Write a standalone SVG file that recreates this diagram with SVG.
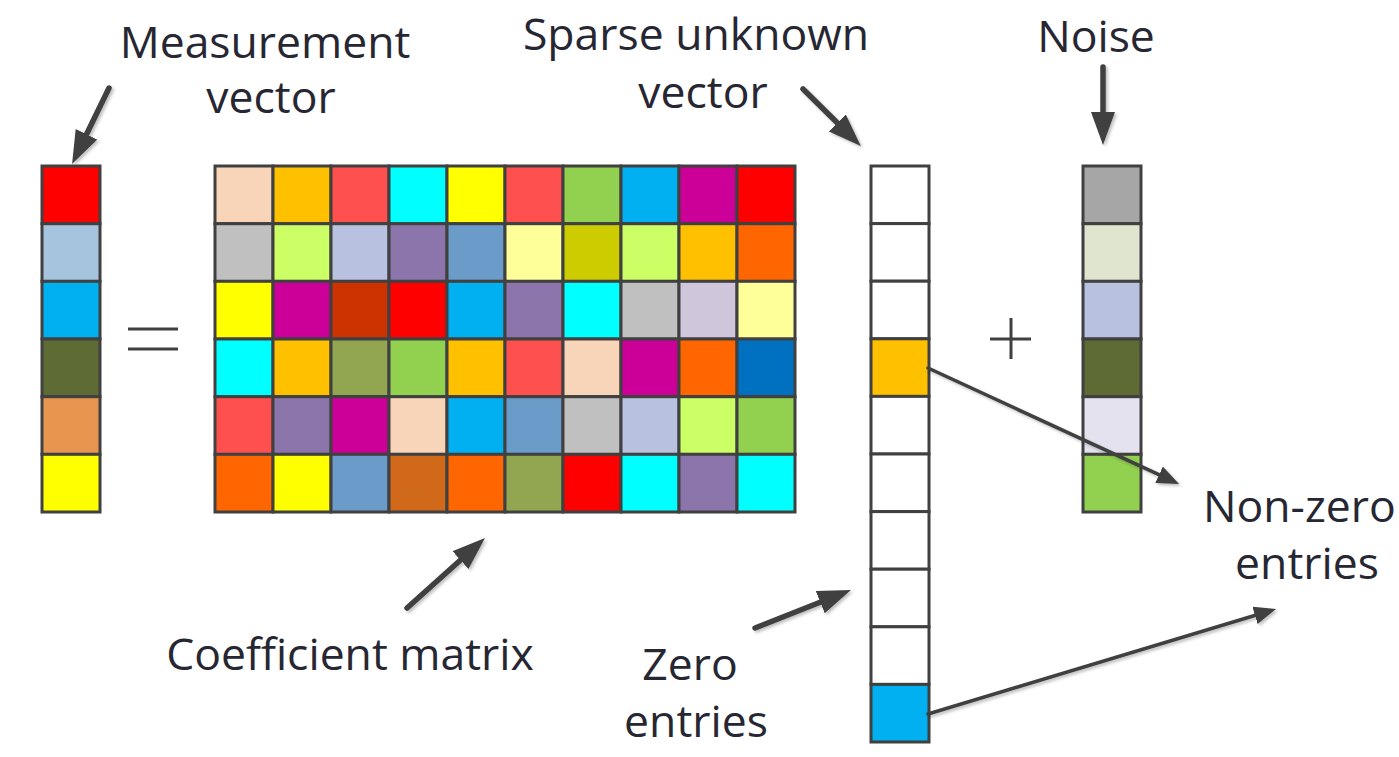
<svg xmlns="http://www.w3.org/2000/svg" width="1399" height="757" viewBox="0 0 1399 757">
<style>
.c{stroke:#404040;stroke-width:3}
.t{font-family:"Open Sans","Noto Sans",sans-serif;font-size:44.5px;fill:#272733;text-anchor:middle}
.a{fill:none;stroke:#404040;stroke-width:5.5;stroke-linecap:round}
.n{fill:none;stroke:#404040;stroke-width:3.5;stroke-linecap:round}
.op{fill:none;stroke:#404040;stroke-width:3}
</style>
<defs>
<marker id="hk" markerUnits="userSpaceOnUse" markerWidth="34" markerHeight="26" refX="8" refY="12" orient="auto"><path d="M0,0 L33,12 L0,24 z" fill="#404040"/></marker>
<marker id="hn" markerUnits="userSpaceOnUse" markerWidth="24" markerHeight="20" refX="4" refY="9" orient="auto"><path d="M0,0 L22,9 L0,18 z" fill="#404040"/></marker>
<filter id="sh" x="-20%" y="-20%" width="140%" height="140%"><feDropShadow dx="2" dy="2" stdDeviation="1.5" flood-color="#000" flood-opacity="0.25"/></filter>
</defs>
<rect width="1399" height="757" fill="#fff"/>

<g id="measurement-vector">
<rect class="c" x="42" y="166" width="58" height="57.7" fill="#FF0000"/>
<rect class="c" x="42" y="223.7" width="58" height="57.7" fill="#A6C4DE"/>
<rect class="c" x="42" y="281.3" width="58" height="57.7" fill="#00B0F0"/>
<rect class="c" x="42" y="339" width="58" height="57.7" fill="#5E6B35"/>
<rect class="c" x="42" y="396.7" width="58" height="57.7" fill="#E8964F"/>
<rect class="c" x="42" y="454.3" width="58" height="57.7" fill="#FFFF00"/>
</g>
<g id="equals"><path class="op" d="M128,329 H178 M128,349 H178"/></g>

<g id="coefficient-matrix">
<g transform="translate(215,166)">
<rect class="c" x="0" y="0" width="58" height="57.7" fill="#F8D5B8"/>
<rect class="c" x="58" y="0" width="58" height="57.7" fill="#FFC000"/>
<rect class="c" x="116" y="0" width="58" height="57.7" fill="#FF5050"/>
<rect class="c" x="174" y="0" width="58" height="57.7" fill="#00FFFF"/>
<rect class="c" x="232" y="0" width="58" height="57.7" fill="#FFFF00"/>
<rect class="c" x="290" y="0" width="58" height="57.7" fill="#FF5050"/>
<rect class="c" x="348" y="0" width="58" height="57.7" fill="#92D050"/>
<rect class="c" x="406" y="0" width="58" height="57.7" fill="#00B0F0"/>
<rect class="c" x="464" y="0" width="58" height="57.7" fill="#CC0099"/>
<rect class="c" x="522" y="0" width="58" height="57.7" fill="#FF0000"/>

<rect class="c" x="0" y="57.7" width="58" height="57.7" fill="#C0C0C0"/>
<rect class="c" x="58" y="57.7" width="58" height="57.7" fill="#CCFF66"/>
<rect class="c" x="116" y="57.7" width="58" height="57.7" fill="#B8C2E0"/>
<rect class="c" x="174" y="57.7" width="58" height="57.7" fill="#8B75AA"/>
<rect class="c" x="232" y="57.7" width="58" height="57.7" fill="#6B9BC8"/>
<rect class="c" x="290" y="57.7" width="58" height="57.7" fill="#FFFF99"/>
<rect class="c" x="348" y="57.7" width="58" height="57.7" fill="#CCCC00"/>
<rect class="c" x="406" y="57.7" width="58" height="57.7" fill="#CCFF66"/>
<rect class="c" x="464" y="57.7" width="58" height="57.7" fill="#FFC000"/>
<rect class="c" x="522" y="57.7" width="58" height="57.7" fill="#FF6600"/>

<rect class="c" x="0" y="115.3" width="58" height="57.7" fill="#FFFF00"/>
<rect class="c" x="58" y="115.3" width="58" height="57.7" fill="#CC0099"/>
<rect class="c" x="116" y="115.3" width="58" height="57.7" fill="#CC3300"/>
<rect class="c" x="174" y="115.3" width="58" height="57.7" fill="#FF0000"/>
<rect class="c" x="232" y="115.3" width="58" height="57.7" fill="#00B0F0"/>
<rect class="c" x="290" y="115.3" width="58" height="57.7" fill="#8B75AA"/>
<rect class="c" x="348" y="115.3" width="58" height="57.7" fill="#00FFFF"/>
<rect class="c" x="406" y="115.3" width="58" height="57.7" fill="#C0C0C0"/>
<rect class="c" x="464" y="115.3" width="58" height="57.7" fill="#CFC6DC"/>
<rect class="c" x="522" y="115.3" width="58" height="57.7" fill="#FFFF99"/>

<rect class="c" x="0" y="173" width="58" height="57.7" fill="#00FFFF"/>
<rect class="c" x="58" y="173" width="58" height="57.7" fill="#FFC000"/>
<rect class="c" x="116" y="173" width="58" height="57.7" fill="#92A550"/>
<rect class="c" x="174" y="173" width="58" height="57.7" fill="#92D050"/>
<rect class="c" x="232" y="173" width="58" height="57.7" fill="#FFC000"/>
<rect class="c" x="290" y="173" width="58" height="57.7" fill="#FF5050"/>
<rect class="c" x="348" y="173" width="58" height="57.7" fill="#F8D5B8"/>
<rect class="c" x="406" y="173" width="58" height="57.7" fill="#CC0099"/>
<rect class="c" x="464" y="173" width="58" height="57.7" fill="#FF6600"/>
<rect class="c" x="522" y="173" width="58" height="57.7" fill="#0070C0"/>

<rect class="c" x="0" y="230.7" width="58" height="57.7" fill="#FF5050"/>
<rect class="c" x="58" y="230.7" width="58" height="57.7" fill="#8B75AA"/>
<rect class="c" x="116" y="230.7" width="58" height="57.7" fill="#CC0099"/>
<rect class="c" x="174" y="230.7" width="58" height="57.7" fill="#F8D5B8"/>
<rect class="c" x="232" y="230.7" width="58" height="57.7" fill="#00B0F0"/>
<rect class="c" x="290" y="230.7" width="58" height="57.7" fill="#6B9BC8"/>
<rect class="c" x="348" y="230.7" width="58" height="57.7" fill="#C0C0C0"/>
<rect class="c" x="406" y="230.7" width="58" height="57.7" fill="#B8C2E0"/>
<rect class="c" x="464" y="230.7" width="58" height="57.7" fill="#CCFF66"/>
<rect class="c" x="522" y="230.7" width="58" height="57.7" fill="#92D050"/>

<rect class="c" x="0" y="288.3" width="58" height="57.7" fill="#FF6600"/>
<rect class="c" x="58" y="288.3" width="58" height="57.7" fill="#FFFF00"/>
<rect class="c" x="116" y="288.3" width="58" height="57.7" fill="#6B9BC8"/>
<rect class="c" x="174" y="288.3" width="58" height="57.7" fill="#D06A1A"/>
<rect class="c" x="232" y="288.3" width="58" height="57.7" fill="#FF6600"/>
<rect class="c" x="290" y="288.3" width="58" height="57.7" fill="#92A550"/>
<rect class="c" x="348" y="288.3" width="58" height="57.7" fill="#FF0000"/>
<rect class="c" x="406" y="288.3" width="58" height="57.7" fill="#00FFFF"/>
<rect class="c" x="464" y="288.3" width="58" height="57.7" fill="#8B75AA"/>
<rect class="c" x="522" y="288.3" width="58" height="57.7" fill="#00FFFF"/>
</g>
</g>

<g id="sparse-vector">
<rect class="c" x="871" y="166" width="58" height="57.6" fill="#FFFFFF"/>
<rect class="c" x="871" y="223.6" width="58" height="57.6" fill="#FFFFFF"/>
<rect class="c" x="871" y="281.2" width="58" height="57.6" fill="#FFFFFF"/>
<rect class="c" x="871" y="338.8" width="58" height="57.6" fill="#FFC000"/>
<rect class="c" x="871" y="396.4" width="58" height="57.6" fill="#FFFFFF"/>
<rect class="c" x="871" y="454" width="58" height="57.6" fill="#FFFFFF"/>
<rect class="c" x="871" y="511.6" width="58" height="57.6" fill="#FFFFFF"/>
<rect class="c" x="871" y="569.2" width="58" height="57.6" fill="#FFFFFF"/>
<rect class="c" x="871" y="626.8" width="58" height="57.6" fill="#FFFFFF"/>
<rect class="c" x="871" y="684.4" width="58" height="57.6" fill="#00B0F0"/>
</g>
<g id="plus"><path class="op" d="M990,339 H1031 M1011,318 V359"/></g>

<g id="noise-vector">
<rect class="c" x="1083" y="166" width="58" height="57.7" fill="#A6A6A6"/>
<rect class="c" x="1083" y="223.7" width="58" height="57.7" fill="#E0E5D0"/>
<rect class="c" x="1083" y="281.3" width="58" height="57.7" fill="#B8C2E0"/>
<rect class="c" x="1083" y="339" width="58" height="57.7" fill="#5E6B35"/>
<rect class="c" x="1083" y="396.7" width="58" height="57.7" fill="#E4E2EE"/>
<rect class="c" x="1083" y="454.3" width="58" height="57.7" fill="#92D050"/>
</g>

<g id="labels">
<text class="t" x="265" y="58">Measurement</text>
<text class="t" x="271" y="113">vector</text>
<text class="t" x="696" y="50">Sparse unknown</text>
<text class="t" x="703" y="108">vector</text>
<text class="t" x="1096" y="52">Noise</text>
<text class="t" x="350" y="670">Coefficient matrix</text>
<text class="t" x="690" y="680">Zero</text>
<text class="t" x="696" y="737">entries</text>
<text class="t" x="1203" y="522" style="text-anchor:start">Non-zero</text>
<text class="t" x="1307" y="579">entries</text>
</g>

<g id="connectors" filter="url(#sh)">
<path class="a" d="M109,88 L83,141.5" marker-end="url(#hk)"/>
<path class="a" d="M803,89 L843,128.5" marker-end="url(#hk)"/>
<path class="a" d="M1103,67 L1103,120" marker-end="url(#hk)"/>
<path class="a" d="M407,608 L466.4,554.7" marker-end="url(#hk)"/>
<path class="a" d="M755,628 L827.7,599.2" marker-end="url(#hk)"/>
<path class="n" d="M928,368 L1162.7,476.4" marker-end="url(#hn)"/>
<path class="n" d="M928,714 L1258.8,614.2" marker-end="url(#hn)"/>
</g>
</svg>
